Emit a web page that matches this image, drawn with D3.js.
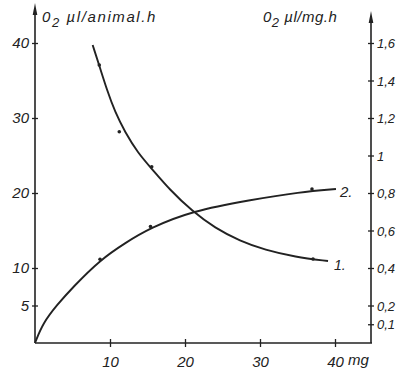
<!DOCTYPE html>
<html>
<head>
<meta charset="utf-8">
<script src="https://cdn.jsdelivr.net/npm/d3@7"></script>
<style>
  body { margin: 0; background: #fff; }
  text { font-family: "Liberation Sans", "DejaVu Sans", sans-serif; font-style: italic; fill: #222; }
</style>
</head>
<body>
<div id="chart"></div>
<script>
// mass (mg) ticks and the two y scales
var xTicks = [10, 20, 30, 40];
var leftTicks = [5, 10, 20, 30, 40];
var rightTicks = [0.1, 0.2, 0.4, 0.6, 0.8, 1, 1.2, 1.4, 1.6];

// curve 1 : O2 ul/mg.h (right axis)
var curve1Mass = [7.69, 8.67, 9.6, 10.67, 12.0, 13.73, 15.6, 18.0, 20.93, 24.0, 27.33, 30.67, 34.67, 39.07];
var curve1Rate = [1.589, 1.467, 1.349, 1.232, 1.125, 1.013, 0.928, 0.816, 0.704, 0.613, 0.544, 0.496, 0.459, 0.437];
var obs1Mass = [8.57, 11.24, 15.56, 37.07];
var obs1Rate = [1.483, 1.127, 0.94, 0.448];

// curve 2 : O2 ul/animal.h (left axis)
var curve2Mass = [0, 1.07, 2.93, 5.07, 8.67, 12.0, 15.33, 20.93, 28.67, 35.33, 40.13];
var curve2Rate = [0, 2.67, 5.07, 7.47, 11.07, 13.33, 15.33, 17.6, 19.07, 20.13, 20.53];
var obs2Mass = [8.67, 15.4, 36.93];
var obs2Rate = [11.16, 15.53, 20.53];

(function draw_chart(lugar) {
  "use strict";
  var width = 399, height = 373, ink = "#222";

  var svg = d3.select(lugar).append("svg")
    .attr("width", width)
    .attr("height", height);

  var x = d3.scaleLinear().domain([0, 40]).range([35, 335]);
  var yL = d3.scaleLinear().domain([0, 40]).range([343, 43]);
  var yR = d3.scaleLinear().domain([0, 1.6]).range([343, 43]);

  // axis lines
  svg.append("line").attr("x1", 35).attr("x2", 372).attr("y1", 343).attr("y2", 343)
    .attr("stroke", ink).attr("stroke-width", 1.6);
  svg.append("line").attr("x1", 35).attr("x2", 35).attr("y1", 343).attr("y2", 8)
    .attr("stroke", ink).attr("stroke-width", 1.6);
  svg.append("line").attr("x1", 371).attr("x2", 371).attr("y1", 343).attr("y2", 16)
    .attr("stroke", ink).attr("stroke-width", 1.6);
  svg.append("path").attr("d", "M35,3 L37.3,15 L32.7,15 Z").attr("fill", ink);
  svg.append("path").attr("d", "M371,11 L373.3,23 L368.7,23 Z").attr("fill", ink);

  // axes through d3 (domain hidden, ticks cross the line)
  var gx = svg.append("g").attr("transform", "translate(0,343)")
    .call(d3.axisBottom(x).tickValues(xTicks).tickSize(4).tickPadding(9));
  var gl = svg.append("g").attr("transform", "translate(35,0)")
    .call(d3.axisLeft(yL).tickValues(leftTicks).tickSize(3).tickPadding(3));
  var gr = svg.append("g").attr("transform", "translate(371,0)")
    .call(d3.axisRight(yR).tickValues(rightTicks).tickSize(3).tickPadding(3)
      .tickFormat(function (d) { return String(d).replace(".", ","); }));

  [gx, gl, gr].forEach(function (g) {
    g.select(".domain").remove();
    g.selectAll("line").attr("stroke", ink).attr("stroke-width", 1.3);
    g.selectAll("text").attr("fill", ink).style("font-family", null);
  });
  gx.selectAll("line").attr("y1", -4);
  gl.selectAll("line").attr("x2", 3).attr("x1", -3);
  gr.selectAll("line").attr("x1", -3);
  gx.selectAll("text").style("font-size", "15px");
  gl.selectAll("text").style("font-size", "15px");
  gr.selectAll("text").style("font-size", "13px").attr("dy", "0.35em");

  svg.append("text").attr("x", 348).attr("y", 365).style("font-size", "15px").text("mg");

  // axis titles
  function title(xPos, rest, spacing) {
    var t = svg.append("text").attr("x", xPos).attr("y", 22)
      .style("font-size", "15px").style("letter-spacing", spacing + "px");
    t.append("tspan").text("0");
    t.append("tspan").attr("dy", 5).style("font-size", "13px").text("2");
    t.append("tspan").attr("dy", -5).text(" " + rest);
  }
  title(42, "µl/animal.h", 1.6);
  title(263, "µl/mg.h", 0.5);

  // curves
  var line1 = d3.line()
    .x(function (d, i) { return x(curve1Mass[i]); })
    .y(function (d, i) { return yR(curve1Rate[i]); })
    .curve(d3.curveBasis);
  var line2 = d3.line()
    .x(function (d, i) { return x(curve2Mass[i]); })
    .y(function (d, i) { return yL(curve2Rate[i]); })
    .curve(d3.curveBasis);

  svg.append("path").attr("d", line1(curve1Mass)).attr("fill", "none")
    .attr("stroke", ink).attr("stroke-width", 1.9);
  svg.append("path").attr("d", line2(curve2Mass)).attr("fill", "none")
    .attr("stroke", ink).attr("stroke-width", 1.9);

  svg.selectAll("circle.o1").data(obs1Mass).enter().append("circle")
    .attr("cx", function (d) { return x(d); })
    .attr("cy", function (d, i) { return yR(obs1Rate[i]); })
    .attr("r", 1.8).attr("fill", ink);
  svg.selectAll("circle.o2").data(obs2Mass).enter().append("circle")
    .attr("cx", function (d) { return x(d); })
    .attr("cy", function (d, i) { return yL(obs2Rate[i]); })
    .attr("r", 1.8).attr("fill", ink);

  // curve labels
  svg.append("text").attr("x", 334).attr("y", 270).style("font-size", "14px").text("1.");
  svg.append("text").attr("x", 340).attr("y", 197).style("font-size", "15px").text("2.");
})("#chart");
</script>
</body>
</html>
